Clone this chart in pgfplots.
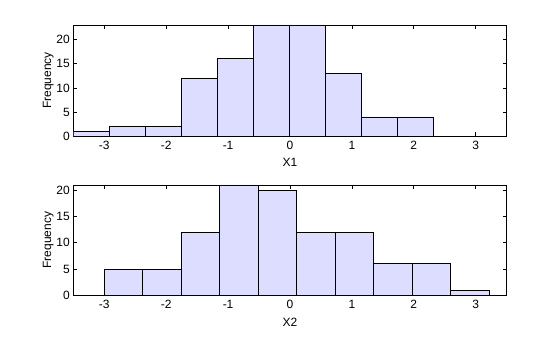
\documentclass[border=0pt]{standalone}
\usepackage{pgfplots}
\pgfplotsset{compat=1.18}
\usepackage{fontspec}
\setmainfont{Liberation Sans}
\definecolor{barfill}{RGB}{221,221,255}
\begin{document}
\begin{tikzpicture}[x=1pt,y=1pt]
\useasboundingbox (0,0) rectangle (560,337);
\pgfplotsset{
  every axis/.append style={
    scale only axis,
    width=433.4pt,
    xmin=-3.5, xmax=3.5, ymin=0,
    xtick={-3,-2,-1,0,1,2,3},
    xticklabels={-3,-2,-1,0,1,2,3},
    tick align=inside,
    major tick length=4pt,
    tick style={black, line width=0.8pt},
    axis line style={line width=0.8pt},
    ytick={0,5,10,15,20},
    yticklabels={0,5,10,15,20},
    tick label style={font=\fontsize{12}{14}\selectfont},
    label style={font=\fontsize{12}{14}\selectfont},
    xticklabel style={yshift=-1.5pt},
    ylabel={Frequency},
    ylabel style={at={(axis description cs:-0.0577,0.5)}, anchor=center},
    anchor=south west,
  },
}
\begin{axis}[
  at={(73.3pt,200.7pt)},
  height=111.3pt,
  ymax=23,
  xlabel={X1},
  xlabel style={at={(axis description cs:0.5,-0.2336)}, anchor=center},
]
\addplot[ybar interval, fill=barfill, draw=black, line width=0.8pt] coordinates {
(-3.500,1) (-2.919,2) (-2.338,2) (-1.756,12) (-1.175,16) (-0.593,23)
(-0.011,23) (0.570,13) (1.152,4) (1.733,4) (2.315,0)
};
\end{axis}
\begin{axis}[
  at={(73.3pt,41.7pt)},
  height=110.3pt,
  ymax=21,
  xlabel={X2},
  xlabel style={at={(axis description cs:0.5,-0.245)}, anchor=center},
]
\addplot[ybar interval, fill=barfill, draw=black, line width=0.8pt] coordinates {
(-3.000,5) (-2.378,5) (-1.756,12) (-1.134,21) (-0.512,20) (0.110,12)
(0.732,12) (1.354,6) (1.976,6) (2.598,1) (3.220,0)
};
\end{axis}
\end{tikzpicture}
\end{document}
